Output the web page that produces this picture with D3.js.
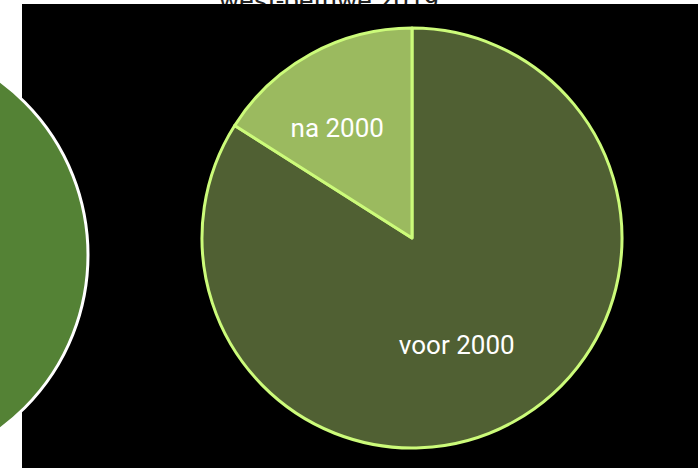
<!DOCTYPE html>
<html>
<head>
<meta charset="utf-8">
<script src="https://cdn.jsdelivr.net/npm/d3@7"></script>
<style>
  body { margin: 0; background: #fff; }
  svg { display: block; }
</style>
</head>
<body>
<svg id="pieChart" width="698" height="468"></svg>
<script>
(function pieChart() {

    // data
    var categories = ["voor 2000", "na 2000"];
    var values = [84, 16];
    var title = "west-betuwe 2019";

    var svg = d3.select("#pieChart"),
        width = +svg.attr("width"),
        height = +svg.attr("height"),
        radius = 210;

    var data = categories.map(function (c, i) {
        return { label: c, value: values[i] };
    });

    // title sits behind the black panel
    svg.append("text")
        .attr("x", 329)
        .attr("y", 10)
        .attr("text-anchor", "middle")
        .style("font-family", "Roboto, sans-serif")
        .style("font-size", "27px")
        .style("fill", "#222")
        .text(title);

    svg.append("rect")
        .attr("x", 22)
        .attr("y", 4)
        .attr("width", width - 22)
        .attr("height", height - 4)
        .attr("fill", "#000");

    // previous slide peeking in from the left
    svg.append("circle")
        .attr("cx", -128)
        .attr("cy", 255)
        .attr("r", 216)
        .attr("fill", "#548235")
        .attr("stroke", "#fff")
        .attr("stroke-width", 3);

    var color = d3.scaleOrdinal()
        .domain(categories)
        .range(["#506033", "#9bba5f"]);

    var pie = d3.pie().value(function (d) { return d.value; });

    var path = d3.arc()
        .outerRadius(radius)
        .innerRadius(0);

    var label = d3.arc()
        .outerRadius(124)
        .innerRadius(124);

    var g = svg.append("g")
        .attr("transform", "translate(412,238)");

    var arc = g.selectAll(".arc")
        .data(pie(data))
        .enter().append("g")
        .attr("class", "arc");

    arc.append("path")
        .attr("d", path)
        .attr("fill", function (d) { return color(d.data.label); })
        .attr("stroke", "#ccfb7a")
        .attr("stroke-width", 3)
        .attr("stroke-linejoin", "round");

    arc.append("text")
        .attr("transform", function (d) {
            return "translate(" + label.centroid(d) + ")";
        })
        .attr("dx", -15)
        .attr("dy", "0.3em")
        .attr("text-anchor", "middle")
        .style("font-family", "Roboto, sans-serif")
        .style("font-size", "26px")
        .style("fill", "#fff")
        .text(function (d) { return d.data.label; });

}());
</script>
</body>
</html>
